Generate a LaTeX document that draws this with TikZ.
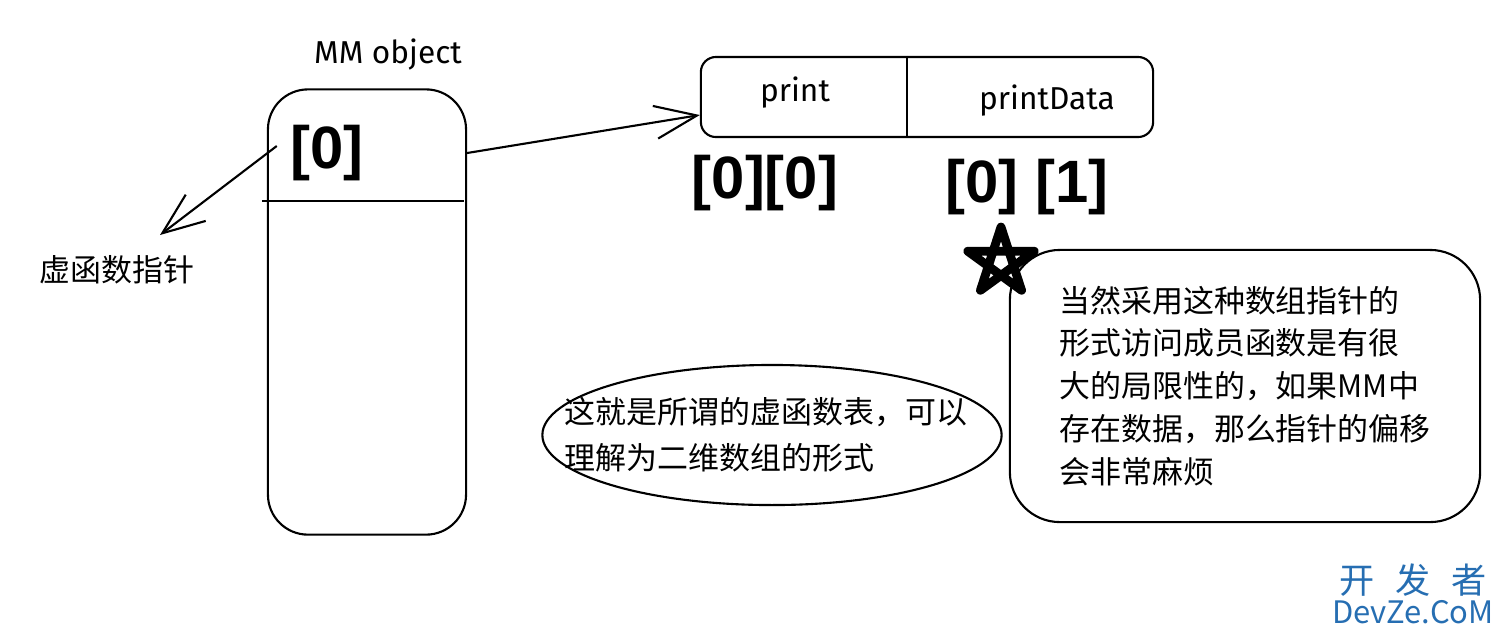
\documentclass[tikz,border=0pt]{standalone}
\usepackage{fontspec}
\setmainfont{Noto Sans CJK SC}
\newfontfamily\hand{Fira Sans}
\newfontfamily\idxfont{Liberation Sans}
\usetikzlibrary{arrows.meta, positioning, shapes.geometric, calc}
\definecolor{cMark}{RGB}{38,110,178}

\begin{document}
\begin{tikzpicture}[x=0.01cm, y=-0.01cm,
      box/.style={draw, line width=0.6pt, inner sep=0pt},
      hand/.style={font=\hand\fontsize{9}{9}\selectfont},
      idx/.style={font=\idxfont\bfseries\fontsize{17}{17}\selectfont, inner sep=0pt},
      cjk/.style={font=\fontsize{8.8}{12.2}\selectfont, align=left},
      ar/.style={-{Straight Barb[length=4.2mm, width=3.3mm]}, line width=0.6pt},
      starline/.style={line width=2.5pt, line join=round, line cap=round}
    ]
    \useasboundingbox (0,0) rectangle (1496,632);

    % object
    \node[box, rounded corners=0.4cm, minimum width=1.98cm, minimum height=4.45cm] (mm) at (367,312) {};
    \node[hand, above=0.06cm of mm, xshift=0.21cm] (mmlbl) {MM object};
    \node[idx] (zero) at (327,153) {[0]};
    \draw[line width=0.6pt] ($(mm.north west)+(-5,113)$) -- ($(mm.north east)+(-3,113)$);

    % vptr
    \node[cjk] (vptr) at (117,270) {虚函数指针};
    \coordinate (vtip) at (160,235);
    \draw[ar] ([xshift=-0.13cm, yshift=0.07cm]zero.west) -- (vtip);

    % vtable
    \node[box, rounded corners=0.15cm, minimum width=4.52cm, minimum height=0.8cm] (vt) at (927,97) {};
    \draw[line width=0.6pt] (vt.north -| 907,0) -- (vt.south -| 907,0);
    \node[hand] (fprint) at (795,93) {print};
    \node[hand] (fdata) at (1047,101) {printData};
    \draw[ar] (mm.east |- zero) -- ([yshift=-0.18cm]vt.west);

    \node[idx] (ia) at (765,183) {[0][0]};
    \node[idx] (ib) at (1027,187) {[0] [1]};

    % note
    \draw[starline] (1001,262) +(-90:35) -- +(54:35) -- +(198:35) -- +(342:35) -- +(126:35) -- cycle;
    \node[box, rounded corners=0.5cm, minimum width=4.7cm, minimum height=2.72cm, cjk] (note) at (1245,386)
      {当然采用这种数组指针的\\形式访问成员函数是有很\\大的局限性的，如果MM中\\存在数据，那么指针的偏移\\会非常麻烦};

    \node[box, ellipse, minimum width=4.59cm, minimum height=1.4cm] (vtbl) at (772,435) {};
    \node[cjk, font=\fontsize{8.8}{13}\selectfont] (vtbltxt) at (766,435)
      {这就是所谓的虚函数表，可以\\理解为二维数组的形式};

    % mark
    \node[text=cMark, font=\fontsize{10}{10}\selectfont, inner sep=0pt] (mk1) at (1413,580) {开\hspace{0.6em}发\hspace{0.6em}者};
    \node[text=cMark, font=\fontsize{8.8}{8.8}\selectfont, inner sep=0pt] (mk2) at (1413,612) {DevZe.CoM};
  \end{tikzpicture}
\end{document}
